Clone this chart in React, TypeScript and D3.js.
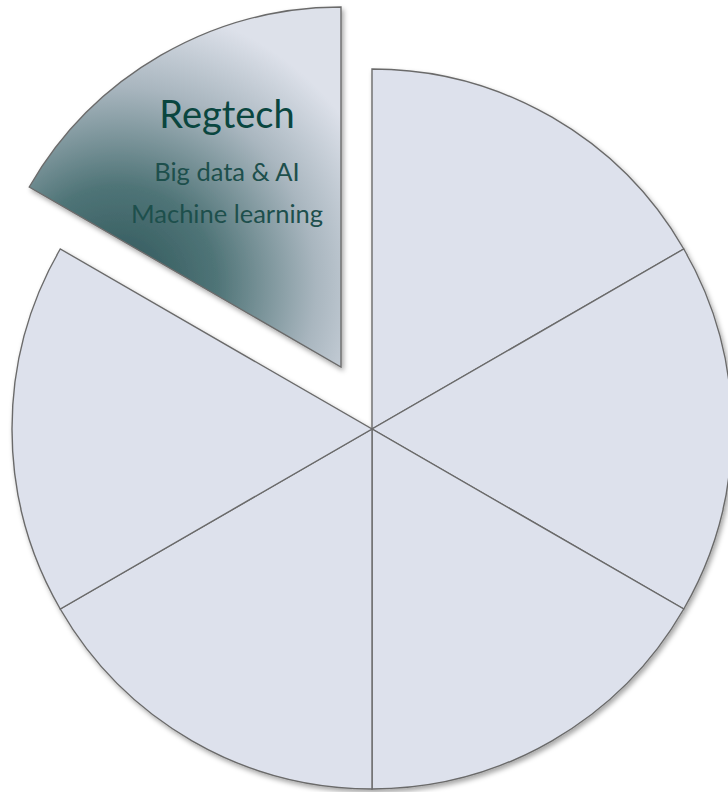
import { useMemo } from 'react'
import * as d3 from 'd3'

const categories = ['Regtech', 'Slice 2', 'Slice 3', 'Slice 4', 'Slice 5', 'Slice 6']
const values = [1, 1, 1, 1, 1, 1]
const highlightTitle = 'Regtech'
const highlightLines = ['Big data & AI', 'Machine learning']

const width = 728
const height = 792
const cx = 372
const cy = 429
const radius = 360
const explode = { dx: -31, dy: -62 }

export default function App() {
  const arcs = useMemo(() => {
    const pie = d3.pie<number>()
      .sort(null)
      .startAngle(-Math.PI / 3)
      .endAngle(2 * Math.PI - Math.PI / 3)
    return pie(values)
  }, [])

  const arc = d3.arc<d3.PieArcDatum<number>>()
    .innerRadius(0)
    .outerRadius(radius)

  const rest = arcs.slice(1)
  const first = arcs[0]
  const gx = cx + explode.dx
  const gy = cy + explode.dy

  return (
    <svg
      width={width}
      height={height}
      style={{ position: 'absolute', left: 0, top: 0, display: 'block', background: '#fff' }}
    >
      <defs>
        <filter id="shadow" x="-10%" y="-10%" width="120%" height="120%">
          <feDropShadow dx="2" dy="3" stdDeviation="2.5" floodColor="#000" floodOpacity="0.35" />
        </filter>
        <radialGradient id="hl" gradientUnits="userSpaceOnUse" cx={118 - gx} cy={285 - gy} r={330}>
          <stop offset="0" stopColor="#2d5558" />
          <stop offset="0.3" stopColor="#4f7477" />
          <stop offset="0.6" stopColor="#a9b6bf" />
          <stop offset="0.85" stopColor="#dde1ea" />
        </radialGradient>
      </defs>

      <g transform={`translate(${cx},${cy})`} filter="url(#shadow)">
        {rest.map((d, i) => (
          <path
            key={categories[i + 1]}
            d={arc(d) || ''}
            fill="#dde1ec"
            stroke="#6b6b6b"
            strokeWidth={1.4}
          />
        ))}
      </g>

      <g transform={`translate(${gx},${gy})`}>
        <path
          d={arc(first) || ''}
          fill="url(#hl)"
          stroke="#6b6b6b"
          strokeWidth={1.4}
          filter="url(#shadow)"
        />
        <text
          x={227 - gx}
          y={128 - gy}
          textAnchor="middle"
          fontFamily="Lato, 'Open Sans', sans-serif"
          fontSize={38}
          fill="#0a463f"
        >
          {highlightTitle}
        </text>
        {highlightLines.map((t, i) => (
          <text
            key={t}
            x={227 - gx}
            y={181 + i * 42 - gy}
            textAnchor="middle"
            fontFamily="Lato, 'Open Sans', sans-serif"
            fontSize={25.5}
            fill="#1d4f4c"
          >
            {t}
          </text>
        ))}
      </g>
    </svg>
  )
}
